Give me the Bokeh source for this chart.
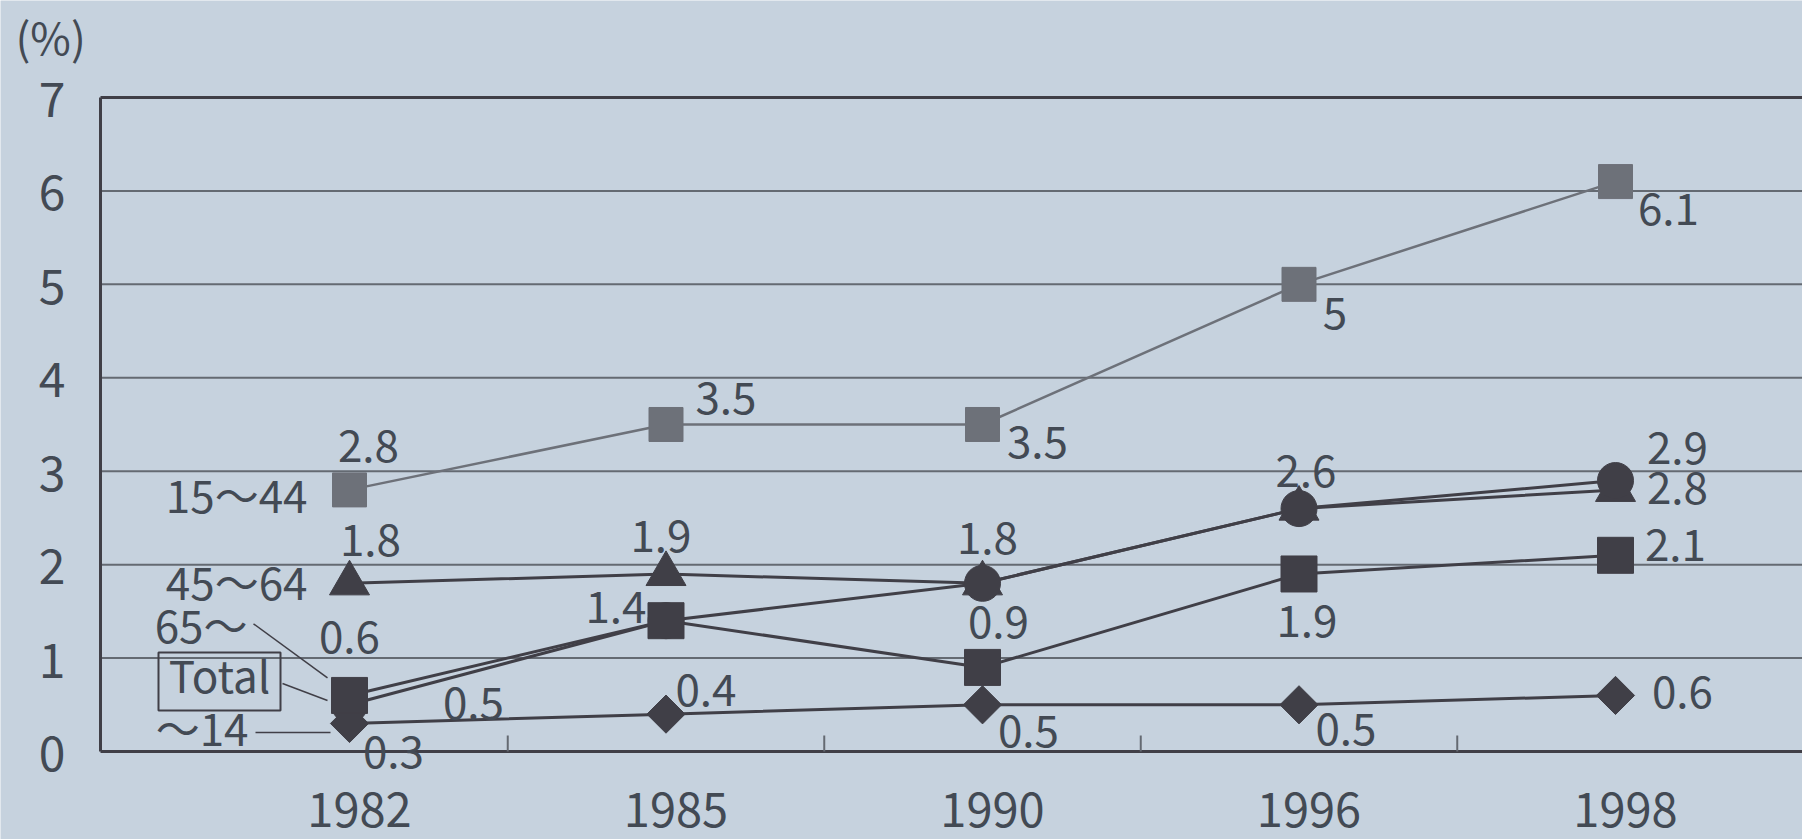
import math
from bokeh.plotting import figure
from bokeh.models import Range1d, ColumnDataSource, LabelSet, Label
from bokeh.core.properties import value
from bokeh.embed import file_html
from bokeh.resources import INLINE

# ---------------- data ----------------
years = ["1982", "1985", "1990", "1996", "1998"]
age_15_44 = [2.8, 3.5, 3.5, 5.0, 6.1]
age_45_64 = [1.8, 1.9, 1.8, 2.6, 2.8]
age_65_over = [0.5, 1.4, 1.8, 2.6, 2.9]
total = [0.6, 1.4, 0.9, 1.9, 2.1]
age_under_14 = [0.3, 0.4, 0.5, 0.5, 0.6]
y_ticks = [0, 1, 2, 3, 4, 5, 6, 7]
series_names = ["15～44", "45～64", "65～", "Total", "～14"]
unit_label = "(%)"

# ---------------- style / layout ----------------
FONT = "Noto Sans CJK JP"
BG = "#c6d2de"
TXT = "#434a54"
DARK = "#403f47"
GRAY = "#6d7179"
GRID = "#646a72"

W, H = 1802, 839
PX_X = 316.5          # pixels per category step
PX_Y = 93.43          # pixels per 1 %
X_ORIGIN_PX = 349     # pixel x of first category
Y_ORIGIN_PX = 751     # pixel y (from top) of value 0
BORDER_PX = 100       # pixel x of left border

X0 = -X_ORIGIN_PX / PX_X
X1 = X0 + W / PX_X
Y0 = -(H - Y_ORIGIN_PX) / PX_Y
Y1 = Y0 + H / PX_Y
XB = X0 + BORDER_PX / PX_X
YT = y_ticks[-1]

xs = list(range(len(years)))

p = figure(width=W, height=H, x_range=Range1d(X0, X1), y_range=Range1d(Y0, Y1),
           output_backend="svg", toolbar_location=None,
           x_axis_location=None, y_axis_location=None, min_border=0,
           background_fill_color=BG, border_fill_color=BG)
p.outline_line_color = None
p.xgrid.visible = False
p.ygrid.visible = False

# gridlines
gv = y_ticks[1:-1]
p.segment(x0=[XB] * len(gv), y0=gv, x1=[X1] * len(gv), y1=gv,
          line_color=GRID, line_width=2)
# frame: top, left, bottom
p.segment(x0=[XB, XB, XB], y0=[YT, y_ticks[0], y_ticks[0]],
          x1=[X1, XB, X1], y1=[YT, YT, y_ticks[0]],
          line_color=DARK, line_width=3)
# small ticks between categories
mids = [i + 0.5 for i in xs[:-1]]
p.segment(x0=mids, y0=[y_ticks[0]] * len(mids), x1=mids,
          y1=[y_ticks[0] + 16 / PX_Y] * len(mids), line_color=GRID, line_width=2)

# y tick labels
ysrc = ColumnDataSource(dict(x=[XB] * len(y_ticks), y=y_ticks, text=[str(t) for t in y_ticks]))
p.add_layout(LabelSet(x="x", y="y", text="text", source=ysrc, x_offset=-35, y_offset=-2,
                      text_font=value(FONT), text_font_size="48px", text_color=TXT,
                      text_align="right", text_baseline="middle"))
# x (year) labels
xsrc = ColumnDataSource(dict(x=xs, y=[y_ticks[0]] * len(xs), text=years))
p.add_layout(LabelSet(x="x", y="y", text="text", source=xsrc, x_offset=10, y_offset=-75,
                      text_font=value(FONT), text_font_size="47px", text_color=TXT,
                      text_align="center", text_baseline="alphabetic"))

# series lines and markers
series = [
    (age_15_44, "square", GRAY, 2.5, 34, 0),
    (age_45_64, "triangle", DARK, 3, 40, 0),
    (age_65_over, "circle", DARK, 3, 36, 0),
    (age_under_14, "square", DARK, 3, 27, math.pi / 4),
    (total, "square", DARK, 3, 36, 0),
]
for vals, mk, col, lw, sz, ang in series:
    p.line(xs, vals, line_color=col, line_width=lw)
for vals, mk, col, lw, sz, ang in [series[1], series[2], series[3], series[4], series[0]]:
    p.scatter(xs, vals, marker=mk, size=sz, angle=ang, fill_color=col, line_color=col)

# value labels: (dx right, dy down) in pixels, None = no label
lab_offsets = [
    (age_15_44, [(19, -44), (60, -26), (55, 18), (36, 29), (53, 27)]),
    (age_45_64, [(21, -43), (-5, -38), (5, -45), (7, -38), (62, -2)]),
    (age_65_over, [(124, -2), None, None, None, (62, -33)]),
    (total, [(0, -58), (-50, -14), (16, -45), (8, 47), (60, -10)]),
    (age_under_14, [(44, 29), (40, -24), (46, 26), (47, 24), (67, -3)]),
]
lx, ly, lt, ldx, ldy = [], [], [], [], []
for vals, offs in lab_offsets:
    for i, (v, o) in enumerate(zip(vals, offs)):
        if o is None:
            continue
        lx.append(xs[i]); ly.append(v); lt.append(f"{v:g}")
        ldx.append(o[0]); ldy.append(-o[1])
src = ColumnDataSource(dict(x=lx, y=ly, text=lt, dx=ldx, dy=ldy))
p.add_layout(LabelSet(x="x", y="y", text="text", source=src, x_offset="dx", y_offset="dy",
                      text_font=value(FONT), text_font_size="44px", text_color=TXT,
                      text_align="center", text_baseline="middle"))

# series name labels near the first point (dx right, dy down)
name_specs = [
    (series_names[0], age_15_44[0], -42, 4, "right"),
    (series_names[1], age_45_64[0], -42, -2, "right"),
    (series_names[2], age_65_over[0], -102, -81, "right"),
    (series_names[3], total[0], -130, -21, "center"),
    (series_names[4], age_under_14[0], -101, 4, "right"),
]
for txt, v, dx, dy, al in name_specs:
    p.add_layout(Label(x=xs[0], y=v, x_offset=dx, y_offset=-dy, text=txt,
                       text_font=FONT, text_font_size="44px", text_color=TXT,
                       text_align=al, text_baseline="middle"))

# box round "Total"
p.rect(x=[xs[0] - 130 / PX_X], y=[total[0] + 14 / PX_Y], width=122, height=58,
       width_units="screen", height_units="screen", fill_color=None,
       line_color=DARK, line_width=2)

# leader lines (pixel offsets from first point: dx right, dy down)
leaders = [
    (age_65_over[0], (-96, -81), (-22, -27)),
    (total[0], (-67, -12), (-22, 5)),
    (age_under_14[0], (-94, 9), (-19, 9)),
]
for v, s, e in leaders:
    p.segment(x0=[xs[0] + s[0] / PX_X], y0=[v - s[1] / PX_Y],
              x1=[xs[0] + e[0] / PX_X], y1=[v - e[1] / PX_Y],
              line_color=DARK, line_width=1.5)

# unit label
p.add_layout(Label(x=XB, y=YT, x_offset=-85, y_offset=61, text=unit_label, text_font=FONT,
                   text_font_size="44px", text_color=TXT, text_align="left",
                   text_baseline="middle"))

open("out.html", "w").write(file_html(p, INLINE))
